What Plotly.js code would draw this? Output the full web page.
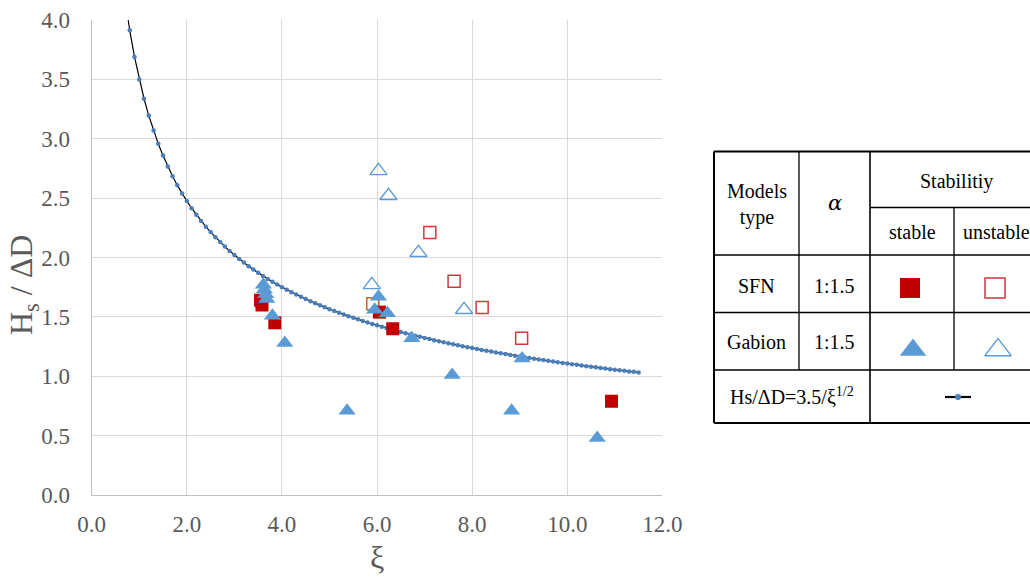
<!DOCTYPE html>
<html>
<head>
<meta charset="utf-8">
<script src="https://cdn.plot.ly/plotly-3.0.1.min.js"></script>
<style>html,body{margin:0;padding:0;background:#fff;}#chart{width:1030px;height:578px;}</style>
</head>
<body>
<div id="chart"></div>
<script>
// ---- Data ----
const curveXi = [0.7,0.8,0.9,1.0,1.1,1.2,1.3,1.4,1.5,1.6,1.7,1.8,1.9,2.0,2.1,2.2,2.3,2.4,2.5,2.6,2.7,2.8,2.9,3.0,3.1,3.2,3.3,3.4,3.5,3.6,3.7,3.8,3.9,4.0,4.1,4.2,4.3,4.4,4.5,4.6,4.7,4.8,4.9,5.0,5.1,5.2,5.3,5.4,5.5,5.6,5.7,5.8,5.9,6.0,6.1,6.2,6.3,6.4,6.5,6.6,6.7,6.8,6.9,7.0,7.1,7.2,7.3,7.4,7.5,7.6,7.7,7.8,7.9,8.0,8.1,8.2,8.3,8.4,8.5,8.6,8.7,8.8,8.9,9.0,9.1,9.2,9.3,9.4,9.5,9.6,9.7,9.8,9.9,10.0,10.1,10.2,10.3,10.4,10.5,10.6,10.7,10.8,10.9,11.0,11.1,11.2,11.3,11.4,11.5];
const curveHs = [4.183,3.913,3.689,3.500,3.337,3.195,3.070,2.958,2.858,2.767,2.684,2.609,2.539,2.475,2.415,2.360,2.308,2.259,2.214,2.171,2.130,2.092,2.055,2.021,1.988,1.957,1.927,1.898,1.871,1.845,1.820,1.796,1.772,1.750,1.729,1.708,1.688,1.669,1.650,1.632,1.614,1.598,1.581,1.565,1.550,1.535,1.520,1.506,1.492,1.479,1.466,1.453,1.441,1.429,1.417,1.406,1.394,1.384,1.373,1.362,1.352,1.342,1.332,1.323,1.314,1.304,1.295,1.287,1.278,1.270,1.261,1.253,1.245,1.237,1.230,1.222,1.215,1.208,1.201,1.194,1.187,1.180,1.173,1.167,1.160,1.154,1.148,1.142,1.136,1.130,1.124,1.118,1.112,1.107,1.101,1.096,1.091,1.085,1.080,1.075,1.070,1.065,1.060,1.055,1.051,1.046,1.041,1.037,1.032];

const gabionStableXi = [3.61,3.63,3.66,3.68,3.80,4.06,5.37,5.95,6.03,6.22,6.73,7.58,8.83,9.05,10.63];
const gabionStableHs = [1.77,1.73,1.69,1.65,1.51,1.28,0.71,1.56,1.67,1.53,1.32,1.01,0.71,1.15,0.48];
const gabionUnstableXi = [5.89,6.03,6.24,6.87,7.83];
const gabionUnstableHs = [1.77,2.73,2.52,2.04,1.56];
const sfnStableXi = [3.55,3.58,3.85,6.05,6.33,10.93];
const sfnStableHs = [1.64,1.60,1.45,1.54,1.40,0.79];
const sfnUnstableXi = [7.11,7.62,8.21,9.04];
const sfnUnstableHs = [2.21,1.80,1.58,1.32];
const sfnOtherXi = [5.91];
const sfnOtherHs = [1.61];

const xTicks = [0,2,4,6,8,10,12];
const yTicks = [0,0.5,1,1.5,2,2.5,3,3.5,4];

// ---- Styles ----
const RED = '#c00000', BLUE = '#5b9bd5', CURVE_DOT = '#4a7ebb';
const serif = 'Liberation Serif';
const W = 1030, H = 578;
const plotL = 91.7, plotR = 662.4, plotT = 20, plotB = 495;

const traces = [
  {x: curveXi, y: curveHs, mode: 'lines+markers', type: 'scatter',
   line: {color: '#000', width: 1.2}, marker: {color: CURVE_DOT, size: 4.5, symbol: 'circle'}},
  {x: sfnOtherXi, y: sfnOtherHs, mode: 'markers', type: 'scatter',
   marker: {symbol: 'square-open', size: 12, color: '#c0662a', line: {width: 1.5, color: '#c0662a'}}},
  {x: sfnUnstableXi, y: sfnUnstableHs, mode: 'markers', type: 'scatter',
   marker: {symbol: 'square-open', size: 12, color: '#d0393b', line: {width: 1.5, color: '#d0393b'}}},
  {x: gabionUnstableXi, y: gabionUnstableHs, mode: 'markers', type: 'scatter',
   marker: {symbol: 'triangle-up-open', size: 15, color: BLUE, line: {width: 1.3, color: BLUE}}},
  {x: sfnStableXi, y: sfnStableHs, mode: 'markers', type: 'scatter',
   marker: {symbol: 'square', size: 13, color: RED}},
  {x: gabionStableXi, y: gabionStableHs, mode: 'markers', type: 'scatter',
   marker: {symbol: 'triangle-up', size: 15, color: BLUE}},
  // table legend symbols (pixel overlay axes)
  {x: [910], y: [288], xaxis: 'x2', yaxis: 'y2', mode: 'markers', type: 'scatter',
   marker: {symbol: 'square', size: 20, color: RED}},
  {x: [995], y: [288], xaxis: 'x2', yaxis: 'y2', mode: 'markers', type: 'scatter',
   marker: {symbol: 'square-open', size: 20, color: '#d0393b', line: {width: 1.5, color: '#d0393b'}}},
  {x: [913], y: [350], xaxis: 'x2', yaxis: 'y2', mode: 'markers', type: 'scatter',
   marker: {symbol: 'triangle-up', size: 23, color: BLUE}},
  {x: [998], y: [350], xaxis: 'x2', yaxis: 'y2', mode: 'markers', type: 'scatter',
   marker: {symbol: 'triangle-up-open', size: 23, color: BLUE, line: {width: 1.3, color: BLUE}}},
  {x: [945, 971], y: [397, 397], xaxis: 'x2', yaxis: 'y2', mode: 'lines', type: 'scatter',
   line: {color: '#000', width: 2.2}},
  {x: [958], y: [397], xaxis: 'x2', yaxis: 'y2', mode: 'markers', type: 'scatter',
   marker: {color: CURVE_DOT, size: 6}}
];

// Table lines in pixel coordinates
const rowY = [151.5, 207.5, 255, 312.5, 370, 423];
const shapes = [];
function ln(x0, y0, x1, y1, w) {
  shapes.push({type: 'line', xref: 'x2', yref: 'y2', x0, y0, x1, y1, line: {color: '#000', width: w}});
}
ln(714, rowY[0], 1040, rowY[0], 2);
ln(714, rowY[5], 1040, rowY[5], 2);
ln(714, rowY[0], 714, rowY[5], 2);
ln(870, rowY[1], 1040, rowY[1], 1.3);
ln(714, rowY[2], 1040, rowY[2], 1.3);
ln(714, rowY[3], 1040, rowY[3], 1.3);
ln(714, rowY[4], 1040, rowY[4], 1.3);
ln(799, rowY[0], 799, rowY[4], 1.3);
ln(870, rowY[0], 870, rowY[5], 1.6);
ln(954, rowY[1], 954, rowY[4], 1.3);

const tf = {family: serif, size: 20, color: '#000'};
function ann(text, x, y, extra) {
  return Object.assign({text, x, y, xref: 'x2', yref: 'y2', showarrow: false,
    xanchor: 'center', yanchor: 'middle', font: tf}, extra || {});
}
const annotations = [
  ann('Models<br>type', 756.5, 204),
  ann('<i>α</i>', 834.5, 203, {font: {family: 'DejaVu Serif', size: 21, color: '#000'}}),
  ann('Stabilitiy', 956, 181),
  ann('stable', 912, 232),
  ann('unstable', 996, 232),
  ann('SFN', 756.5, 286),
  ann('1:1.5', 834.5, 286),
  ann('Gabion', 756.5, 342),
  ann('1:1.5', 834.5, 342),
  ann('Hs/ΔD=3.5/ξ<sup>1/2</sup>', 792, 396),
  ann('ξ', (plotL + plotR) / 2, 557, {font: {family: serif, size: 32, color: '#595959'}}),
  ann('H<sub>s</sub> / ΔD', 23, 285, {textangle: -90, font: {family: serif, size: 32, color: '#595959'}})
];

const axisFont = {family: serif, size: 23, color: '#595959'};
const layout = {
  width: W, height: H,
  margin: {l: 0, r: 0, t: 0, b: 0, pad: 0},
  paper_bgcolor: '#fff', plot_bgcolor: 'rgba(0,0,0,0)',
  showlegend: false,
  xaxis: {domain: [plotL / W, plotR / W], range: [0, 12], tickvals: xTicks, tickformat: '.1f',
    showgrid: true, gridcolor: '#d9d9d9', gridwidth: 1, zeroline: false,
    showline: true, linecolor: '#bfbfbf', linewidth: 1,
    ticks: 'outside', ticklen: 8, tickcolor: 'rgba(0,0,0,0)',
    tickfont: axisFont, anchor: 'y', fixedrange: true},
  yaxis: {domain: [(H - plotB) / H, (H - plotT) / H], range: [0, 4], tickvals: yTicks, tickformat: '.1f',
    showgrid: true, gridcolor: '#d9d9d9', gridwidth: 1, zeroline: false,
    showline: true, linecolor: '#bfbfbf', linewidth: 1,
    ticks: 'outside', ticklen: 16, tickcolor: 'rgba(0,0,0,0)',
    tickfont: axisFont, anchor: 'x', fixedrange: true},
  xaxis2: {domain: [0, 1], range: [0, W], visible: false, anchor: 'y2', fixedrange: true},
  yaxis2: {domain: [0, 1], range: [H, 0], visible: false, anchor: 'x2', fixedrange: true},
  shapes, annotations
};

Plotly.newPlot('chart', traces, layout, {displayModeBar: false, staticPlot: true});
</script>
</body>
</html>
